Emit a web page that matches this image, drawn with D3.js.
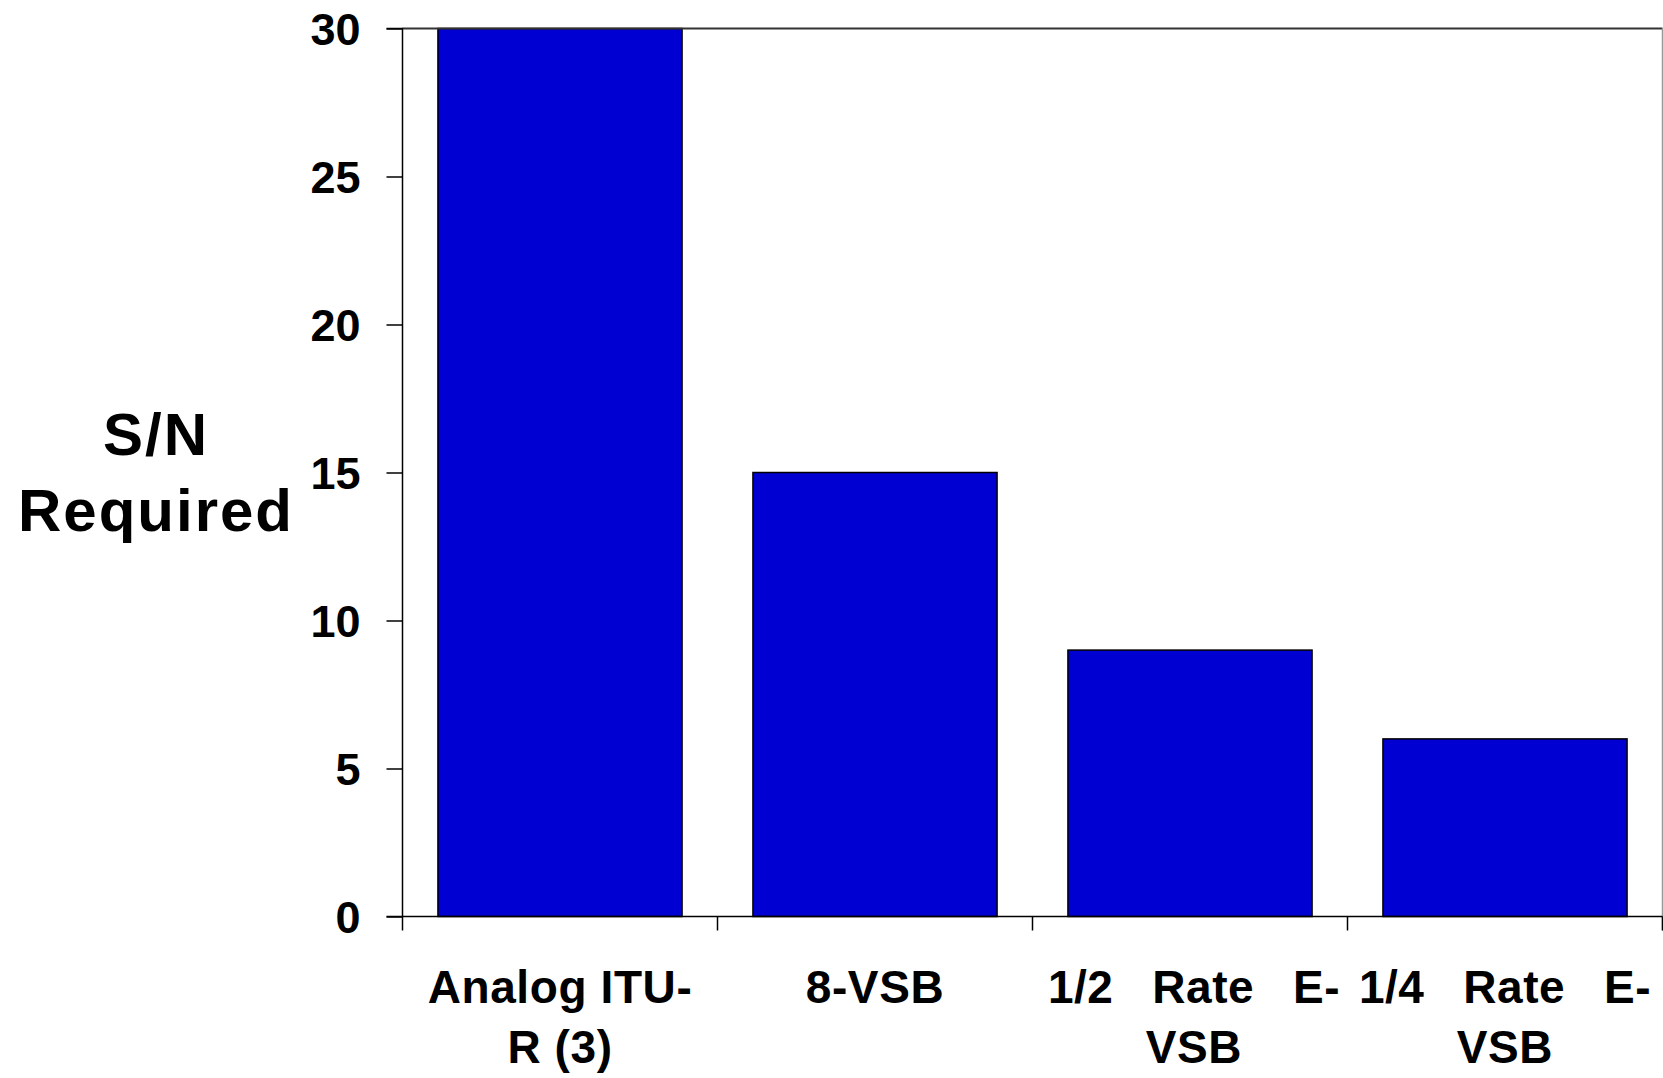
<!DOCTYPE html>
<html><head><meta charset="utf-8">
<script src="https://cdn.jsdelivr.net/npm/d3@7"></script>
<style>html,body{margin:0;padding:0;background:#fff;overflow:hidden}svg{display:block}text{font-family:"Liberation Sans",Arial,sans-serif;font-weight:bold;fill:#000}</style>
</head><body>
<svg id="c" width="1663" height="1078"></svg>
<script>
const categories = ["Analog ITU-R (3)", "8-VSB", "1/2 Rate E-VSB", "1/4 Rate E-VSB"];
const categoryLines = [["Analog ITU-", "R (3)"], ["8-VSB"], ["1/2 Rate E-", "VSB"], ["1/4 Rate E-", "VSB"]];
const values = [30, 15, 9, 6];
const yTicks = [0, 5, 10, 15, 20, 25, 30];
const yTitle = ["S/N", "Required"];

const svg = d3.select("#c");
const L = 402.5, R = 1662.5, T = 28.5, B = 916.5;
const x = d3.scaleBand().domain(categories).range([L, R]).paddingInner(0.225).paddingOuter(0.1125);
const y = d3.scaleLinear().domain([0, 30]).range([B, T]);
const blue = "#0000d2";

// bars
svg.append("g").selectAll("rect").data(values).join("rect")
  .attr("x", (d, i) => x(categories[i]))
  .attr("y", d => y(d))
  .attr("width", x.bandwidth())
  .attr("height", d => y(0) - y(d))
  .attr("fill", blue).attr("stroke", "#000").attr("stroke-width", 1.5);

// top and right frame
svg.append("line").attr("x1", L).attr("x2", R).attr("y1", T).attr("y2", T).attr("stroke", "#333").attr("stroke-width", 2);
svg.append("line").attr("x1", R).attr("x2", R).attr("y1", T).attr("y2", B + 14).attr("stroke", "#999").attr("stroke-width", 1.5);

// y axis
const yAxis = d3.axisLeft(y).tickValues(yTicks).tickSize(16).tickPadding(26).tickFormat(d3.format("d"));
const gy = svg.append("g").attr("transform", `translate(${L},0)`).call(yAxis);
gy.select(".domain").attr("stroke", "#000").attr("stroke-width", 1.5).attr("d", `M-16,${T}H0V${B}`);
gy.selectAll(".tick line").attr("stroke", "#000").attr("stroke-width", 1.5);
gy.selectAll(".tick text").style("font-size", "45px").attr("fill", "#000").attr("dy", "0.36em");

// x axis line + ticks at band boundaries
const xAxisG = svg.append("g");
xAxisG.append("line").attr("x1", L - 16).attr("x2", R).attr("y1", B).attr("y2", B).attr("stroke", "#000").attr("stroke-width", 1.5);
const bounds = categories.map(c => x(c) - x.step() * x.paddingInner() / 2);
bounds.push(R);
bounds[0] = L;
xAxisG.selectAll("line.tk").data(bounds).join("line").attr("class", "tk")
  .attr("x1", d => d).attr("x2", d => d).attr("y1", B).attr("y2", B + 14)
  .attr("stroke", "#000").attr("stroke-width", 1.5);

// x labels
const fs = 46, lineH = 60, base1 = 1003, justW = 292;
categoryLines.forEach((lines, i) => {
  const cx = x(categories[i]) + x.bandwidth() / 2 + (i === 2 ? 4 : 0);
  lines.forEach((ln, j) => {
    const words = ln.split(" ");
    const by = base1 + j * lineH;
    if (words.length >= 3) {
      const g = svg.append("g");
      const ts = words.map(w => g.append("text").attr("y", by).style("font-size", fs + "px").style("letter-spacing", "0.5px").text(w));
      const ws = ts.map(t => t.node().getComputedTextLength());
      const total = d3.sum(ws);
      const gap = (justW - total) / (words.length - 1);
      let cur = cx - justW / 2;
      ts.forEach((t, k) => { t.attr("x", cur); cur += ws[k] + gap; });
    } else {
      svg.append("text").attr("x", cx).attr("y", by).attr("text-anchor", "middle").style("font-size", fs + "px").style("letter-spacing", "0.6px").text(ln);
    }
  });
});

// y title
yTitle.forEach((t, i) => {
  svg.append("text").attr("x", 156).attr("y", 455 + i * 76).attr("text-anchor", "middle").style("font-size", "60px").style("letter-spacing", "2px").text(t);
});
</script>
</body></html>
